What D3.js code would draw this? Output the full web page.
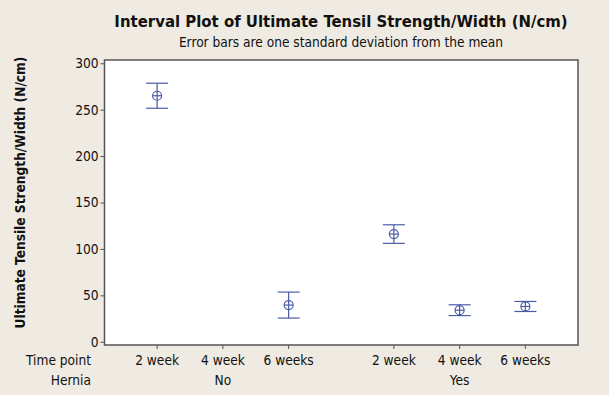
<!DOCTYPE html>
<html>
<head>
<meta charset="utf-8">
<script src="https://cdn.jsdelivr.net/npm/d3@7"></script>
<style>
  body { margin: 0; background: #efebe2; }
  text { font-family: "DejaVu Sans Condensed", "DejaVu Sans", sans-serif; fill: #111; }
</style>
</head>
<body>
<div id="chart"></div>
<script>
// data
const timePoints = ["2 week", "4 week", "6 weeks", "2 week", "4 week", "6 weeks"]
const hernia = ["No", "No", "No", "Yes", "Yes", "Yes"]
const slots = [0, 1, 2, 3.6, 4.6, 5.6]
const means = [265, null, 39.5, 116, 34, 38]
const sds = [13.5, null, 14, 10, 5.8, 5.4]
const yTicks = [0, 50, 100, 150, 200, 250, 300]

const width = 609
const height = 395
const margin = {top: 60, right: 31, bottom: 50, left: 104.5}
const fs = "13.6px"

const svg = d3.select("#chart")
    .append("svg")
    .attr("width", width)
    .attr("height", height)

svg.append("rect")
    .attr("width", width)
    .attr("height", height)
    .attr("fill", "#efebe2")

const x = d3.scaleLinear()
    .domain([-0.8, 6.4])
    .range([margin.left, width - margin.right])

const y = d3.scaleLinear()
    .domain([-3.5, 303.5])
    .range([height - margin.bottom, margin.top])

svg.append("rect")
    .attr("x", margin.left)
    .attr("y", margin.top)
    .attr("width", width - margin.right - margin.left)
    .attr("height", height - margin.bottom - margin.top)
    .attr("fill", "white")
    .attr("stroke", "#555")
    .attr("stroke-width", 1.5)

// y axis
const yAxis = svg.append("g")
    .attr("transform", `translate(${margin.left},0)`)
    .call(d3.axisLeft(y).tickValues(yTicks).tickSize(4).tickSizeOuter(0))
yAxis.select(".domain").remove()
yAxis.selectAll("line").attr("stroke", "#555")
yAxis.selectAll("text")
    .attr("x", -6)
    .style("font-size", fs)
    .style("font-family", "\"DejaVu Sans Condensed\", sans-serif")
    .attr("fill", "#111")

// x ticks
svg.append("g")
    .selectAll("line")
    .data(slots)
    .join("line")
    .attr("x1", d => x(d))
    .attr("x2", d => x(d))
    .attr("y1", height - margin.bottom)
    .attr("y2", height - margin.bottom + 4)
    .attr("stroke", "#555")

svg.append("g")
    .selectAll("text")
    .data(timePoints)
    .join("text")
    .attr("x", (d, i) => x(slots[i]))
    .attr("y", 365)
    .attr("text-anchor", "middle")
    .style("font-size", fs)
    .text(d => d)

const groups = [["No", 1], ["Yes", 4.6]]
svg.append("g")
    .selectAll("text")
    .data(groups)
    .join("text")
    .attr("x", d => x(d[1]))
    .attr("y", 384.5)
    .attr("text-anchor", "middle")
    .style("font-size", fs)
    .text(d => d[0])

svg.append("text")
    .attr("x", 91)
    .attr("y", 365)
    .attr("text-anchor", "end")
    .style("font-size", fs)
    .text("Time point")

svg.append("text")
    .attr("x", 91)
    .attr("y", 384.5)
    .attr("text-anchor", "end")
    .style("font-size", fs)
    .text("Hernia")

// titles
svg.append("text")
    .attr("x", 341)
    .attr("y", 27)
    .attr("text-anchor", "middle")
    .style("font-size", "16.6px")
    .style("font-weight", "bold")
    .text("Interval Plot of Ultimate Tensil Strength/Width (N/cm)")

svg.append("text")
    .attr("x", 341)
    .attr("y", 47)
    .attr("text-anchor", "middle")
    .style("font-size", fs)
    .text("Error bars are one standard deviation from the mean")

svg.append("text")
    .attr("transform", `translate(25,192.5) rotate(-90)`)
    .attr("text-anchor", "middle")
    .style("font-size", "13.6px")
    .style("font-weight", "bold")
    .text("Ultimate Tensile Strength/Width (N/cm)")

// intervals
const pts = slots.map((s, i) => ({s, m: means[i], sd: sds[i]})).filter(d => d.m !== null)
const blue = "#4a5ca8"
const cap = 11
const marks = svg.append("g")
    .attr("stroke", blue)
    .attr("fill", "none")
    .attr("stroke-width", 1.2)

marks.selectAll(".stem")
    .data(pts)
    .join("line")
    .attr("x1", d => x(d.s))
    .attr("x2", d => x(d.s))
    .attr("y1", d => y(d.m + d.sd))
    .attr("y2", d => y(d.m - d.sd))

marks.selectAll(".capTop")
    .data(pts)
    .join("line")
    .attr("x1", d => x(d.s) - cap)
    .attr("x2", d => x(d.s) + cap)
    .attr("y1", d => y(d.m + d.sd))
    .attr("y2", d => y(d.m + d.sd))

marks.selectAll(".capBot")
    .data(pts)
    .join("line")
    .attr("x1", d => x(d.s) - cap)
    .attr("x2", d => x(d.s) + cap)
    .attr("y1", d => y(d.m - d.sd))
    .attr("y2", d => y(d.m - d.sd))

marks.selectAll("circle")
    .data(pts)
    .join("circle")
    .attr("cx", d => x(d.s))
    .attr("cy", d => y(d.m))
    .attr("r", 4.5)
    .attr("fill", "white")

marks.selectAll(".hbar")
    .data(pts)
    .join("line")
    .attr("x1", d => x(d.s) - 4.5)
    .attr("x2", d => x(d.s) + 4.5)
    .attr("y1", d => y(d.m))
    .attr("y2", d => y(d.m))

marks.selectAll(".vbar")
    .data(pts)
    .join("line")
    .attr("class", "vbar")
    .attr("x1", d => x(d.s))
    .attr("x2", d => x(d.s))
    .attr("y1", d => y(d.m) - 4.5)
    .attr("y2", d => y(d.m) + 4.5)
</script>
</body>
</html>
